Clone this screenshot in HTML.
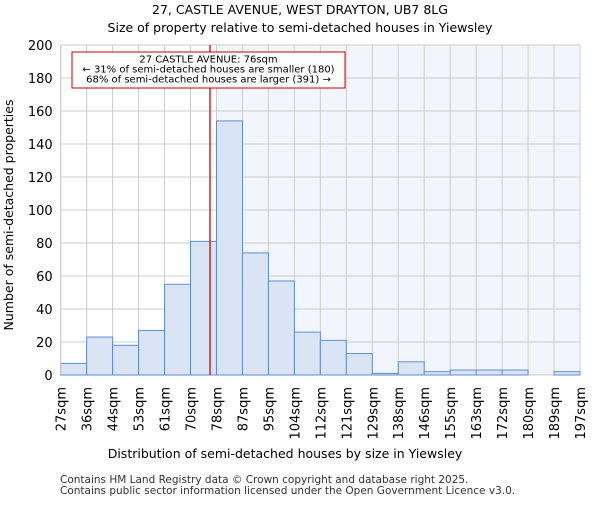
<!DOCTYPE html>
<html><head><meta charset="utf-8"><style>
body{margin:0;background:#fff}
svg{font-family:"DejaVu Sans","Liberation Sans",sans-serif}
</style></head><body>
<svg id="c" width="600" height="500" viewBox="0 0 600 500" xmlns="http://www.w3.org/2000/svg">
<text x="300" y="14" text-anchor="middle" font-size="12.5">27, CASTLE AVENUE, WEST DRAYTON, UB7 8LG</text>
<text x="300" y="32" text-anchor="middle" font-size="12.5">Size of property relative to semi-detached houses in Yiewsley</text>
<g id="plot"></g>
<text x="285" y="458" text-anchor="middle" font-size="12.5">Distribution of semi-detached houses by size in Yiewsley</text>
<text transform="translate(13,215) rotate(-90)" text-anchor="middle" font-size="12.5">Number of semi-detached properties</text>
<text x="60" y="483" font-size="10.5" fill="#333">Contains HM Land Registry data © Crown copyright and database right 2025.</text>
<text x="60" y="494" font-size="10.5" fill="#333">Contains public sector information licensed under the Open Government Licence v3.0.</text>
</svg>
<script>
const categories=["27sqm","36sqm","44sqm","53sqm","61sqm","70sqm","78sqm","87sqm","95sqm","104sqm","112sqm","121sqm","129sqm","138sqm","146sqm","155sqm","163sqm","172sqm","180sqm","189sqm","197sqm"];
const counts=[7,23,18,27,55,81,154,74,57,26,21,13,1,8,2,3,3,3,0,2];
const yTicks=[0,20,40,60,80,100,120,140,160,180,200];
const markerIndex=5.75;
const NS="http://www.w3.org/2000/svg";
const g=document.getElementById("plot");
const L=60.7,R=580,T=45,B=375,yMax=200;
const bw=(R-L)/counts.length;
const x=i=>L+i*bw;
const y=v=>B-(v/yMax)*(B-T);
function mk(t,a){const e=document.createElementNS(NS,t);for(const k in a)e.setAttribute(k,a[k]);g.appendChild(e);return e;}
let e;
e=mk("rect",{x:x(6),y:T,width:R-x(6),height:B-T,fill:"#f2f5fc"});


yTicks.forEach(v=>{
 e=mk("line",{x1:L,x2:R,y1:y(v),y2:y(v),stroke:"#ccc","stroke-width":1});
 
 
 e=mk("text",{x:L-8,y:y(v)+5,"text-anchor":"end","font-size":13});
 e.textContent=v;
 
 
});
categories.forEach((c,i)=>{
 e=mk("line",{x1:x(i),x2:x(i),y1:T,y2:B,stroke:"#ccc","stroke-width":1});
 
 
 e=mk("text",{transform:`translate(${x(i)+5},${B+12}) rotate(-90)`,"text-anchor":"end","font-size":13});
 e.textContent=c;
 
 
});
counts.forEach((v,i)=>{
 if(v<=0)return;
 e=mk("rect",{x:x(i),y:y(v),width:bw,height:B-y(v),fill:"#dae4f4",stroke:"#5b8fd6","stroke-width":1});
 
 
});
e=mk("line",{x1:L,x2:L,y1:T,y2:B,stroke:"#ccc"});


const mx=x(markerIndex);
e=mk("line",{x1:mx,x2:mx,y1:T,y2:B,stroke:"#d00","stroke-width":1.3});


e=mk("rect",{x:72,y:52,width:273,height:36,fill:"#fff",stroke:"#c00","stroke-width":1});


["27 CASTLE AVENUE: 76sqm","← 31% of semi-detached houses are smaller (180)","68% of semi-detached houses are larger (391) →"].forEach((s,k)=>{
 e=mk("text",{x:208.5,y:62.5+k*10,"text-anchor":"middle","font-size":10});
 e.textContent=s;
 
 
});
</script>
</body></html>
